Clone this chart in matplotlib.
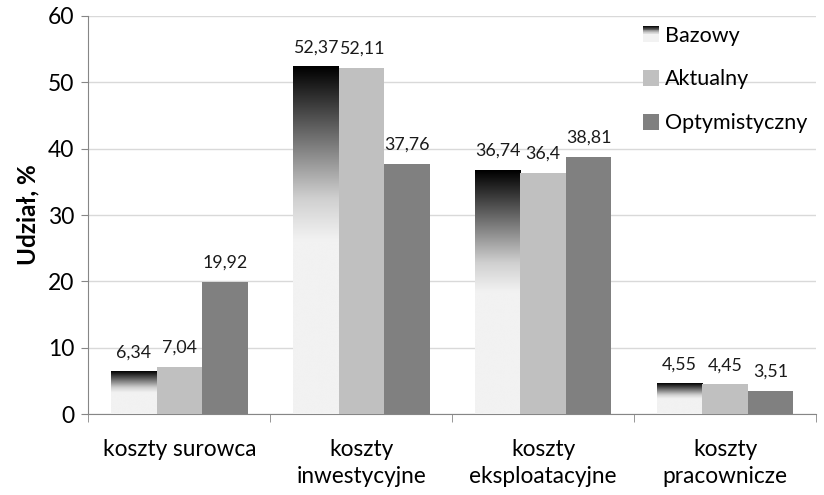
import matplotlib
matplotlib.use("Agg")
import matplotlib.pyplot as plt
import numpy as np
from matplotlib.colors import LinearSegmentedColormap
from matplotlib.patches import Rectangle
from matplotlib.legend_handler import HandlerBase

categories = ["koszty surowca", "koszty\ninwestycyjne",
              "koszty\neksploatacyjne", "koszty\npracownicze"]
series_names = ["Bazowy", "Aktualny", "Optymistyczny"]
bazowy = [6.34, 52.37, 36.74, 4.55]
aktualny = [7.04, 52.11, 36.4, 4.45]
optymistyczny = [19.92, 37.76, 38.81, 3.51]
y_ticks = [0, 10, 20, 30, 40, 50, 60]

plt.rcParams['font.family'] = ['Lato', 'DejaVu Sans']

# black at the top, light grey from the middle of the bar down
grad = LinearSegmentedColormap.from_list(
    "baz", [(0.0, "#f2f2f2"), (0.5, "#f2f2f2"), (0.62, "#d0d0d0"),
            (1.0, "#000000")])


class GradientPatch(Rectangle):
    pass


class GradientHandler(HandlerBase):
    def create_artists(self, legend, orig_handle, xdescent, ydescent,
                       width, height, fontsize, trans):
        n = 20
        parts = []
        for k in range(n):
            frac = (k + 0.5) / n
            parts.append(Rectangle((-xdescent, -ydescent + height * k / n),
                                   width, height / n + 0.3,
                                   facecolor=grad(frac), edgecolor='none',
                                   transform=trans))
        return parts


fig = plt.figure(figsize=(8.24, 4.95), dpi=100)
ax = fig.add_axes([0.1074, 0.1636, 0.8829, 0.8041])

x = np.arange(len(categories))
w = 0.25
gradient = np.linspace(0, 1, 256).reshape(-1, 1)

bars_b = ax.bar(x - w, bazowy, w, color='none', edgecolor='none', zorder=3)
for b in bars_b:
    x0, h = b.get_x(), b.get_height()
    ax.imshow(gradient, cmap=grad, origin='lower', aspect='auto',
              extent=[x0, x0 + w, 0, h], zorder=3, interpolation='bicubic')
bars_a = ax.bar(x, aktualny, w, color='#c0c0c0', zorder=3)
bars_o = ax.bar(x + w, optymistyczny, w, color='#808080', zorder=3)

for bars, vals in [(bars_b, bazowy), (bars_a, aktualny), (bars_o, optymistyczny)]:
    for b, v in zip(bars, vals):
        ax.text(b.get_x() + w / 2, v + 1.7, f"{v:g}".replace('.', ','),
                ha='center', va='bottom', fontsize=12.8, color='#1a1a1a')

ax.set_xlim(-0.5, 3.5)
ax.set_ylim(0, 60)
ax.set_yticks(y_ticks)
ax.tick_params(axis='y', labelsize=16.5, length=5, color='#868686', pad=5)
ax.set_xticks(x)
ax.set_xticklabels(categories, fontsize=16.3, va='top', linespacing=1.38)
ax.set_xticks(np.arange(-0.5, 4, 1), minor=True)
ax.tick_params(axis='x', which='major', length=0, pad=18)
ax.tick_params(axis='x', which='minor', length=6, color='#868686')
ax.grid(axis='y', color='#d9d9d9', linewidth=1, zorder=0)
for s in ['top', 'right']:
    ax.spines[s].set_visible(False)
for s in ['left', 'bottom']:
    ax.spines[s].set_color('#868686')
ax.set_ylabel("Udział, %", fontsize=17.5, fontweight='bold', labelpad=6)

handles = [GradientPatch((0, 0), 1, 1), bars_a[0], bars_o[0]]
ax.legend(handles, series_names, loc='upper left',
          bbox_to_anchor=(0.757, 0.987), bbox_transform=fig.transFigure,
          frameon=False, fontsize=15.5, labelspacing=1.1,
          handlelength=0.75, handleheight=0.75, handletextpad=0.25,
          handler_map={GradientPatch: GradientHandler()})

fig.savefig("out.png", dpi=100)
